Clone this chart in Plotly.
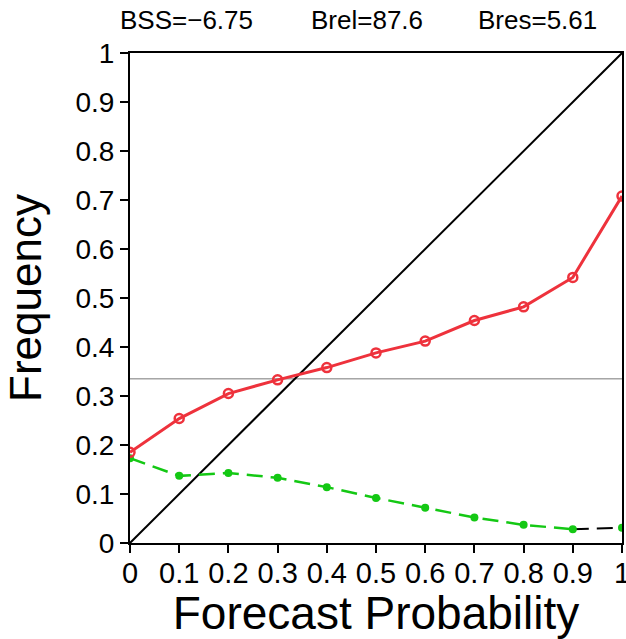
import plotly.graph_objects as go

prob = [0, 0.1, 0.2, 0.3, 0.4, 0.5, 0.6, 0.7, 0.8, 0.9, 1.0]
obs_freq = [0.185, 0.254, 0.305, 0.333, 0.358, 0.388, 0.412, 0.454, 0.482, 0.542, 0.708]
fcst_freq = [0.173, 0.137, 0.143, 0.133, 0.114, 0.092, 0.072, 0.052, 0.037, 0.028, 0.031]
climatology = 0.335
tick_vals = [0, 0.1, 0.2, 0.3, 0.4, 0.5, 0.6, 0.7, 0.8, 0.9, 1]
tick_text = ["0", "0.1", "0.2", "0.3", "0.4", "0.5", "0.6", "0.7", "0.8", "0.9", "1"]
score_labels = ["BSS=\u22126.75", "Brel=87.6", "Bres=5.61"]
score_pos = [0.114, 0.482, 0.829]  # paper-x centers of the three score labels

FONT = "Liberation Sans"
RED = "rgb(238,50,60)"
GREEN = "rgb(20,200,20)"

fig = go.Figure()
fig.add_trace(go.Scatter(x=[0, 1], y=[climatology, climatology], mode="lines",
                         line=dict(color="rgb(120,120,120)", width=1), showlegend=False))
fig.add_trace(go.Scatter(x=[0, 1], y=[0, 1], mode="lines",
                         line=dict(color="black", width=2), showlegend=False))
fig.add_trace(go.Scatter(x=prob[:-1], y=fcst_freq[:-1], mode="lines",
                         line=dict(color=GREEN, width=2.5, dash="16px,8px"), showlegend=False))
fig.add_trace(go.Scatter(x=prob[-2:], y=fcst_freq[-2:], mode="lines",
                         line=dict(color="black", width=2, dash="16px,8px"), showlegend=False))
fig.add_trace(go.Scatter(x=prob, y=fcst_freq, mode="markers",
                         marker=dict(color=GREEN, size=8), showlegend=False))
fig.add_trace(go.Scatter(x=prob, y=obs_freq, mode="lines+markers",
                         line=dict(color=RED, width=3),
                         marker=dict(symbol="circle-open", color=RED, size=9,
                                     line=dict(width=2.5, color=RED)),
                         showlegend=False))

for txt, px in zip(score_labels, score_pos):
    fig.add_annotation(text=txt, xref="paper", yref="paper", x=px, y=1 + 33 / 490,
                       xanchor="center", yanchor="middle", showarrow=False,
                       font=dict(family=FONT, size=26, color="black"))

axis_common = dict(range=[0, 1], tickvals=tick_vals, ticktext=tick_text,
                   showgrid=False, zeroline=False, showline=True, linecolor="black",
                   linewidth=2, mirror=True, ticks="outside", ticklen=8, tickwidth=2,
                   tickcolor="black", automargin=False, ticklabeloverflow="allow")

fig.update_layout(
    width=626, height=639,
    margin=dict(l=130, r=4, t=53, b=96),
    paper_bgcolor="white", plot_bgcolor="white",
    xaxis=dict(**axis_common, tickfont=dict(family=FONT, size=29, color="black"),
               ticklabelstandoff=-5,
               title=dict(text="Forecast Probability", standoff=12,
                          font=dict(family=FONT, size=46, color="black"))),
    yaxis=dict(**axis_common, tickfont=dict(family=FONT, size=28, color="black"),
               title=dict(text="Frequency", standoff=20,
                          font=dict(family=FONT, size=44, color="black"))),
)

fig.write_html("out.html", config={"displayModeBar": False},
               post_script="document.body.style.margin='0px';document.body.style.overflow='hidden';")
